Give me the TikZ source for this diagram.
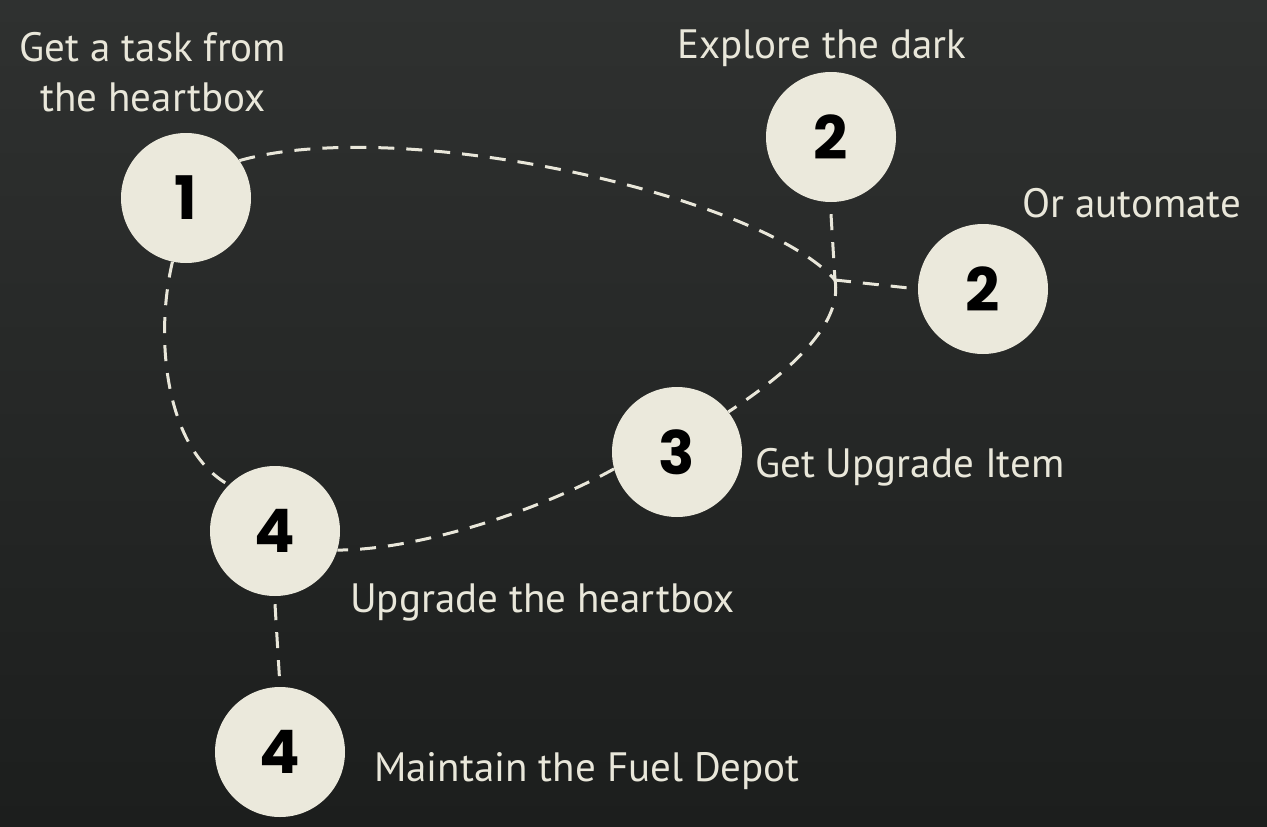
\documentclass[tikz,border=0pt]{standalone}
\usepackage{fontspec}
\setmainfont{PT Sans}
\newfontfamily\numfont{Poppins}
\definecolor{bgtop}{HTML}{2F3130}
\definecolor{bgbot}{HTML}{1C1E1D}
\definecolor{cream}{HTML}{EBE9DC}
\definecolor{txt}{HTML}{E9E7DA}
\begin{document}
\begin{tikzpicture}[x=1pt,y=-1pt,
  stepcircle/.style={circle,fill=cream,minimum size=130pt,inner sep=0pt,
    font=\numfont\bfseries\fontsize{60}{60}\selectfont,text=black},
  lbl/.style={text=txt,font=\fontsize{41}{50}\selectfont,inner sep=0pt},
  link/.style={draw=txt,line width=3pt,dash pattern=on 16pt off 12pt}]
\shade[top color=bgtop,bottom color=bgbot] (0,0) rectangle (1267,827);
\useasboundingbox (0,0) rectangle (1267,827);

\node[stepcircle] (c1) at (186,198) {1};
\node[stepcircle] (c2a) at (831,137) {2};
\node[stepcircle] (c2b) at (983,289) {2};
\node[stepcircle] (c3) at (677,452) {3};
\node[stepcircle] (c4a) at (275,531) {4};
\node[stepcircle] (c4b) at (280,752) {4};
\coordinate (j) at (835,280);

\node[lbl,align=center] (t1) at (153,72) {Get a task from\\the heartbox};
\node[lbl,anchor=west] (t2a) at (677,48) {Explore the dark};
\node[lbl,anchor=west] (t2b) at (1022,203) {Or automate};
\node[lbl,anchor=west] (t3) at (755,467) {Get Upgrade Item};
\node[lbl,anchor=west] (t4a) at (350,602) {Upgrade the heartbox};
\node[lbl,anchor=west] (t4b) at (374,771) {Maintain the Fuel Depot};

\draw[link] (c1.35) .. controls (400,115) and (760,195) .. (j);
\draw[link] (j) .. controls (842,320) and (800,365) .. (c3.38);
\draw[link] (c2a.south) ++(0,12) -- (j);
\draw[link] (j) -- (c2b.west);
\draw[link] (c3.195) .. controls (540,510) and (420,550) .. (c4a.343);
\draw[link] (c1.258) .. controls (154,340) and (166,450) .. (c4a.135);
\draw[link] (c4a.south) ++(0,8) -- (c4b.north);
\end{tikzpicture}
\end{document}
